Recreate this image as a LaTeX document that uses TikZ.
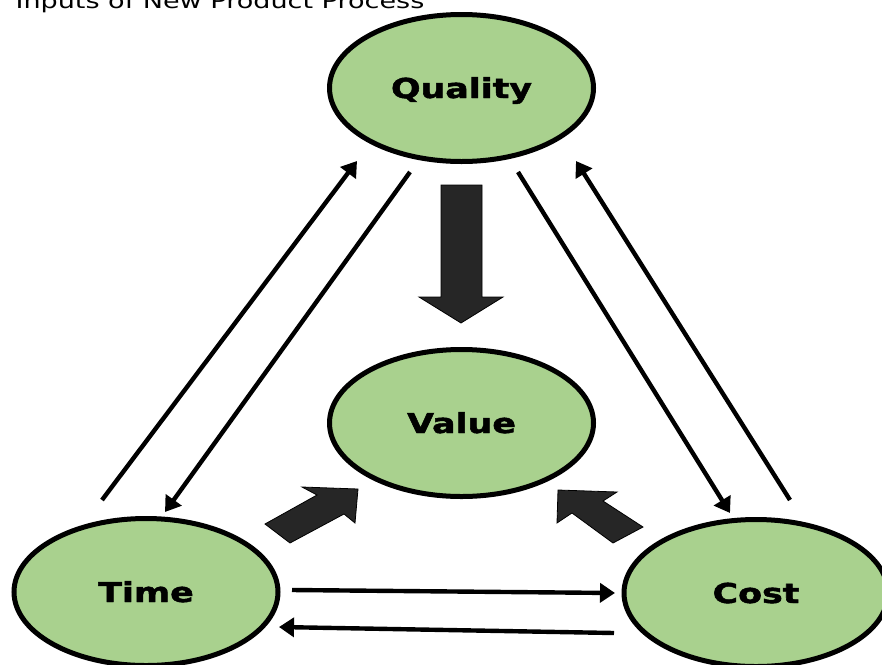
\documentclass[tikz,border=0pt]{standalone}
\usepackage{fontspec}
\setmainfont{DejaVu Sans}
\newfontfamily\heavyfont{DejaVu Sans Bold}[FakeBold=1.6]
\usetikzlibrary{shapes.geometric,arrows.meta}
\definecolor{leafgreen}{RGB}{169,209,142}
\definecolor{blockgrey}{RGB}{38,38,38}
\tikzstyle{factor}=[ellipse,draw=black,line width=5pt,fill=leafgreen,minimum width=264pt,minimum height=147pt,inner sep=0pt,text height=20pt,text depth=0pt,font=\heavyfont\fontsize{27.4}{30}\selectfont]
\tikzstyle{line} = [draw, line width=4.4pt, -{Triangle[length=15pt,width=19pt]}]
\tikzstyle{block} = [fill=blockgrey, draw=black, line width=0.8pt, line join=miter]
\newcommand{\wide}[1]{\scalebox{1.27}[1]{#1}}

\begin{document}
\begin{tikzpicture}[x=1pt,y=-1pt]
    \useasboundingbox (0,0) rectangle (882,664);

    \node[anchor=base west,font=\fontsize{20.8}{24}\selectfont] (title) at (12,8.5) {\scalebox{1.3}[1]{Inputs of New Product Process}};

        \node[factor] (QU) at (461.5,88) {\wide{Quality}};
        \node[factor] (VA) at (461.5,423) {\wide{Value}};
        \node[factor] (TI) at (146,592) {\wide{Time}};
        \node[factor] (CO) at (756,593) {\wide{Cost}}; % runs past the right edge

    % ends of the thin arrows, kept clear of the ellipses
    \coordinate (TQstart) at (102,500);
    \coordinate (TQend)   at (357,161);
    \coordinate (QTstart) at (410,172);
    \coordinate (QTend)   at (165,512);
    \coordinate (QCstart) at (518,172);
    \coordinate (QCend)   at (730,513);
    \coordinate (CQstart) at (790,500);
    \coordinate (CQend)   at (576,161);
    \coordinate (TCstart) at (292,590);
    \coordinate (TCend)   at (615,593);
    \coordinate (CTstart) at (614,633);
    \coordinate (CTend)   at (279,627);

  \path [line] (TQstart) -- (TQend);
  \path [line] (QTstart) -- (QTend);
  \path [line] (QCstart) -- (QCend);
  \path [line] (CQstart) -- (CQend);
  \path [line] (TCstart) -- (TCend);
  \path [line] (CTstart) -- (CTend);

  % block arrows into Value
  \draw[block] (441,185) -- (482,185) -- (482,297) -- (503,297) -- (461,323) -- (419,297) -- (441,297) -- cycle;
  \draw[block] (265,524) -- (317,495) -- (302,487) -- (358,489) -- (355,523) -- (344,514) -- (290,543) -- cycle;
  \draw[block] (643,527) -- (603,501) -- (617,492) -- (558,490) -- (557,523) -- (572,513) -- (613,543) -- cycle;

\end{tikzpicture}
\end{document}
